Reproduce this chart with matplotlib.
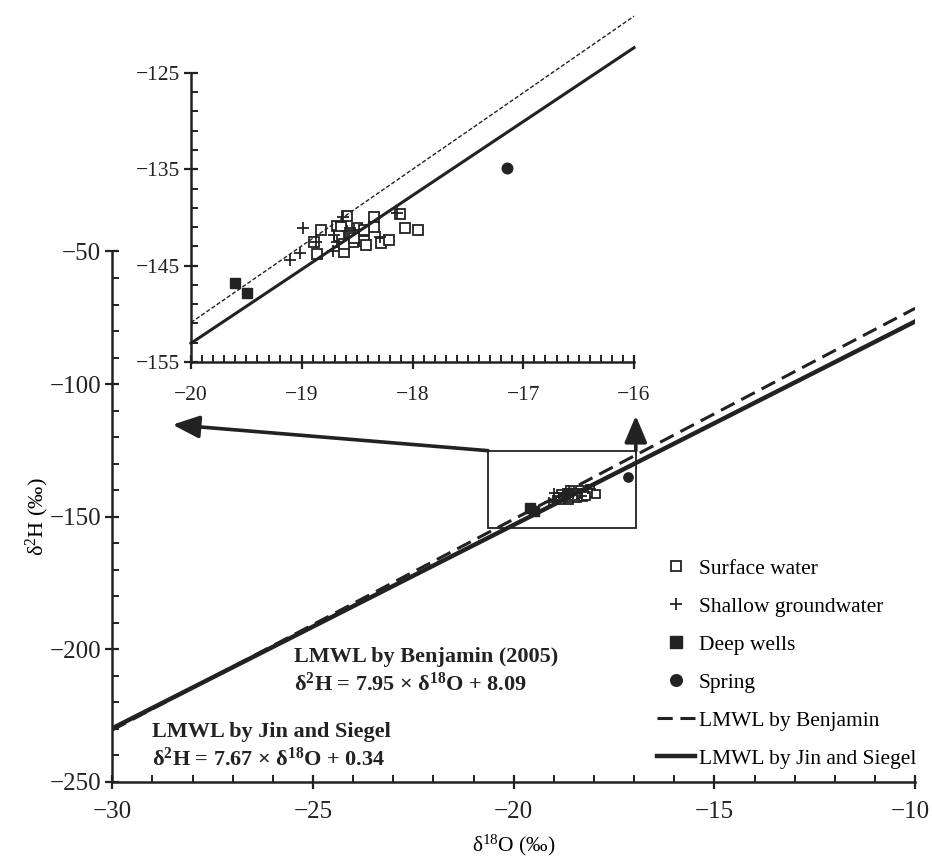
import numpy as np
import matplotlib
matplotlib.use("Agg")
import matplotlib.pyplot as plt
from matplotlib.patches import Rectangle
from matplotlib.transforms import ScaledTranslation

plt.rcParams['font.family'] = ['Liberation Serif', 'DejaVu Serif']
plt.rcParams['mathtext.fontset'] = 'custom'
plt.rcParams['mathtext.rm'] = 'Liberation Serif'
plt.rcParams['mathtext.it'] = 'Liberation Serif:italic'
plt.rcParams['mathtext.bf'] = 'Liberation Serif:bold'

# data
surface_x = [-18.59, -18.35, -18.11, -18.83, -18.68, -18.65, -18.50, -18.35, -18.07, -17.95,
             -18.89, -18.86, -18.62, -18.54, -18.44, -18.42, -18.28, -18.21, -18.66, -18.56,
             -18.62, -18.44, -18.53]
surface_y = [-139.8, -140.0, -139.6, -141.3, -140.9, -141.0, -141.1, -141.0, -141.1, -141.3,
             -142.5, -143.8, -143.6, -142.6, -142.4, -142.9, -142.7, -142.3, -141.9, -141.6,
             -142.8, -141.3, -142.1]
shallow_x = [-18.99, -19.11, -19.02, -18.72, -18.87, -18.29, -18.14, -18.63, -18.71, -18.68,
             -18.59, -18.53]
shallow_y = [-141.1, -144.4, -143.7, -143.5, -142.6, -142.0, -139.5, -140.0, -141.8, -142.6,
             -141.4, -141.3]
deep_x = [-19.60, -19.49]
deep_y = [-146.8, -147.8]
spring_x = [-17.15]
spring_y = [-134.9]

# LMWL equations (slope, intercept)
benjamin = (7.95, 8.09)
jin = (7.67, 0.34)
main_line_x = np.array([-30, -10])
inset_line_x = np.array([-20, -16])

# zoom box and arrow tips in main-axes data units
box_x = (-20.64, -16.96)
box_y = (-154.2, -125.1)
arrow_left_tip = (-28.5, -115.3)
arrow_up_tip = (-16.96, -111.9)

fig = plt.figure(figsize=(9.32, 8.61), dpi=100)
ax = fig.add_axes([0.1205, 0.0918, 0.8615, 0.6161])
axin = fig.add_axes([0.2049, 0.5796, 0.4754, 0.3357])

# markers: main panel a bit smaller than the inset
for a, m in [(ax, 0.88), (axin, 1.0)]:
    a.plot(surface_x, surface_y, 's', ms=6.6 * m, mfc='white', mec='#222', mew=1.3,
           ls='none', label='Surface water')
    a.plot(shallow_x, shallow_y, '+', ms=8.5 * m, mec='#222', mew=1.3,
           ls='none', label='Shallow groundwater')
    a.plot(deep_x, deep_y, 's', ms=7.4 * m, color='#222', ls='none', label='Deep wells')
    a.plot(spring_x, spring_y, 'o', ms=7.6 * m, color='#222', ls='none', label='Spring')

ax.plot(main_line_x, benjamin[0] * main_line_x + benjamin[1], color='#222', lw=2.2,
        dashes=(5, 2.5), label='LMWL by Benjamin')
ax.plot(main_line_x, jin[0] * main_line_x + jin[1], color='#222', lw=3.2,
        label='LMWL by Jin and Siegel')
axin.plot(inset_line_x, benjamin[0] * inset_line_x + benjamin[1], color='#222', lw=1.0,
          dashes=(3, 1.5), clip_on=False)
axin.plot(inset_line_x, jin[0] * inset_line_x + jin[1], color='#222', lw=2.2, clip_on=False)

ax.add_patch(Rectangle((box_x[0], box_y[0]), box_x[1] - box_x[0], box_y[1] - box_y[0],
                       fill=False, ec='#222', lw=1.3, zorder=1))
arr = dict(arrowstyle='-|>,head_length=0.9,head_width=0.38', color='#222', lw=2.6,
           mutation_scale=18, shrinkA=0, shrinkB=0)
ax.annotate('', xy=arrow_left_tip, xytext=(box_x[0], box_y[1]), arrowprops=arr,
            annotation_clip=False)
ax.annotate('', xy=arrow_up_tip, xytext=(box_x[1], box_y[1]), arrowprops=arr,
            annotation_clip=False)

# axes styling
for a, fs, xpad in [(ax, 18, 9), (axin, 15.5, 12)]:
    for s in ('top', 'right'):
        a.spines[s].set_visible(False)
    for s in ('left', 'bottom'):
        a.spines[s].set_linewidth(1.8)
        a.spines[s].set_color('#222')
    a.tick_params(which='major', direction='inout', length=10, width=1.6, colors='#222',
                  labelsize=fs)
    a.tick_params(which='minor', direction='in', length=5, width=1.4, colors='#222')
    a.tick_params(axis='y', which='major', pad=3)
    a.tick_params(axis='x', which='major', pad=xpad)
    a.patch.set_alpha(0)

ax.set_xlim(-30, -10)
ax.set_ylim(-250, -50)
ax.set_xticks(np.arange(-30, -9, 5))
ax.set_xticks(np.arange(-30, -9, 1), minor=True)
ax.set_yticks(np.arange(-250, -49, 50))
ax.set_yticks(np.arange(-250, -49, 10), minor=True)
ax.set_xlabel('δ$^{\\mathrm{18}}$O (‰)', fontsize=15.5, labelpad=7)
ax.set_ylabel('δ$^{\\mathrm{2}}$H (‰)', fontsize=16, labelpad=-1)

# keep the last x tick label inside the canvas
last = ax.xaxis.get_major_ticks()[-1].label1
last.set_transform(last.get_transform() + ScaledTranslation(-0.05, 0, fig.dpi_scale_trans))

axin.set_xlim(-20, -16)
axin.set_ylim(-155, -125)
axin.set_xticks(np.arange(-20, -15.9, 1))
axin.set_xticks(np.arange(-20, -15.95, 0.1), minor=True)
axin.set_yticks(np.arange(-155, -124, 10))
axin.set_yticks(np.arange(-155, -124, 2), minor=True)

ax.text(-25.47, -204.7, 'LMWL by Benjamin (2005)', fontsize=16, fontweight='bold',
        color='#222', va='baseline')
ax.text(-25.47, -215.7, 'δ$^{\\mathbf{2}}$H = 7.95 × δ$^{\\mathbf{18}}$O + 8.09', fontsize=16,
        fontweight='bold', color='#222', va='baseline')
ax.text(-29.0, -233.0, 'LMWL by Jin and Siegel', fontsize=16, fontweight='bold',
        color='#222', va='baseline')
ax.text(-29.0, -244.0, 'δ$^{\\mathbf{2}}$H = 7.67 × δ$^{\\mathbf{18}}$O + 0.34', fontsize=16,
        fontweight='bold', color='#222', va='baseline')

handles, labels = ax.get_legend_handles_labels()
fig.legend(handles, labels, loc='upper left', bbox_to_anchor=(0.705, 0.351),
           frameon=False, fontsize=15.5, handlelength=1.75, handletextpad=0.2,
           labelspacing=0.83, borderpad=0, borderaxespad=0, markerscale=1.25)

fig.savefig('out.png', dpi=100)
